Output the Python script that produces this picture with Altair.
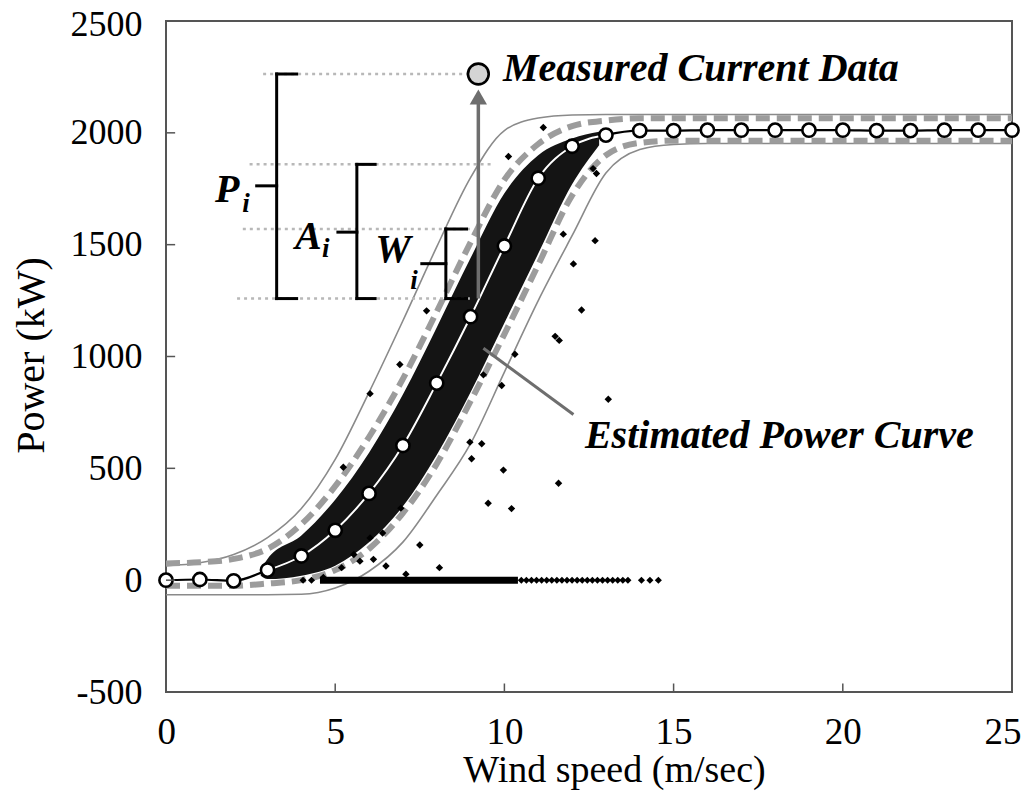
import altair as alt
import pandas as pd

# ---------------- data ----------------
wind = list(range(26))
est_power = [0, 3, -3, 45, 108, 223, 388, 602, 881, 1178, 1494, 1797, 1940, 1990,
             2010, 2010, 2012, 2012, 2012, 2012, 2012, 2010, 2010, 2012, 2012, 2012]
a_upper = [65, 78, 115, 190, 320, 540, 840, 1160, 1490, 1800, 2010, 2066, 2080, 2082,
           2082, 2082, 2082, 2082, 2082, 2082, 2082, 2082, 2082, 2082, 2082, 2082]
a_lower = [-65, -65, -65, -65, -63, -35, 40, 170, 380, 610, 930, 1250, 1540, 1820,
           1925, 1948, 1952, 1952, 1952, 1952, 1952, 1952, 1952, 1952, 1952, 1952]
w_upper = [75, 80, 95, 140, 250, 420, 640, 900, 1200, 1510, 1790, 1950, 2030, 2055,
           2065, 2065, 2065, 2065, 2065, 2065, 2065, 2065, 2065, 2065, 2065, 2065]
w_lower = [-25, -25, -25, -15, 0, 45, 140, 300, 520, 800, 1100, 1410, 1720, 1900,
           1955, 1965, 1965, 1965, 1965, 1965, 1965, 1965, 1965, 1965, 1965, 1965]

core_wind = [2.8, 3, 4, 5, 6, 7, 8, 9, 10, 11, 12, 12.8]
core_upper = [50, 95, 200, 360, 570, 830, 1130, 1440, 1730, 1900, 1975, 2005]
core_lower = [20, 5, 20, 65, 170, 330, 560, 840, 1150, 1460, 1770, 1945]

out_wind = [11.15, 10.12, 12.62, 12.72, 11.74, 12.68, 12.04, 12.28, 11.50, 11.62,
            7.70, 6.91, 6.03, 10.31, 9.38, 9.92, 13.07, 8.98, 9.33, 9.03, 5.24,
            9.97, 11.60, 9.52, 10.21, 6.94, 6.40, 6.03, 7.50, 5.55, 5.73, 5.19,
            6.13, 6.50, 8.08, 7.09, 4.65]
out_power = [2024, 1894, 1840, 1818, 1547, 1518, 1414, 1208, 1090, 1072,
             1204, 964, 834, 1010, 918, 870, 809, 617, 610, 543, 505,
             492, 433, 344, 320, 322, 211, 189, 157, 115, 85, 56,
             93, 63, 56, 27, 12]

zero_wind = [4.05, 4.3, 10.5, 10.65, 10.8, 10.95, 11.1, 11.25, 11.4, 11.55, 11.7,
             11.85, 12.0, 12.15, 12.3, 12.45, 12.6, 12.75, 12.9, 13.05, 13.2,
             13.35, 13.5, 13.65, 14.05, 14.3, 14.55]
zero_run = [4.55, 10.4]

measured_wind = [9.23]
measured_power = [2263]

guide_y = [2263, 1859, 1570, 1259]
guide_x = [2.87, 2.47, 2.27, 2.1]
guide_x2 = [8.95, 9.66, 8.98, 8.98]

brk_x = [3.27, 3.27, 3.27, 2.68, 5.64, 5.64, 5.64, 5.08, 8.27, 8.27, 8.27, 7.56]
brk_x2 = [3.27, 3.86, 3.86, 3.27, 5.64, 6.18, 6.18, 5.64, 8.27, 8.88, 8.88, 8.27]
brk_y = [1259, 2263, 1259, 1763, 1259, 1859, 1259, 1556, 1259, 1570, 1259, 1415]
brk_y2 = [2263, 2263, 1259, 1763, 1859, 1859, 1259, 1556, 1570, 1570, 1259, 1415]

sym_text = ["P", "A", "W"]
sym_x = [1.45, 3.81, 6.18]
sym_y = [1689, 1481, 1422]
sub_text = ["i", "i", "i"]
sub_x = [2.25, 4.61, 7.22]
sub_y = [1644, 1444, 1302]

call_text = ["Measured Current Data", "Estimated Power Curve"]
call_x = [9.96, 12.38]
call_y = [2231, 591]

arrow_x = [9.23]
arrow_y = [1259]
arrow_y2 = [2150]
arrowhead_y = [2160]
pointer_x = [9.38]
pointer_x2 = [12.04]
pointer_y = [1037]
pointer_y2 = [741]

xticks = [5, 10, 15, 20]
yticks = [0, 500, 1000, 1500, 2000]

# ---------------- frames ----------------
curves = pd.DataFrame({"wind": wind, "est": est_power, "aup": a_upper, "alo": a_lower,
                       "wup": w_upper, "wlo": w_lower})
core = pd.DataFrame({"wind": core_wind, "hi": core_upper, "lo": core_lower})
outl = pd.DataFrame({"wind": out_wind, "power": out_power})
zeros = pd.DataFrame({"wind": zero_wind, "power": [0] * len(zero_wind)})
zrun = pd.DataFrame({"wind": [zero_run[0]], "wind2": [zero_run[1]], "power": [0]})
meas = pd.DataFrame({"wind": measured_wind, "power": measured_power})
guides = pd.DataFrame({"wind": guide_x, "wind2": guide_x2, "power": guide_y})
brk = pd.DataFrame({"wind": brk_x, "wind2": brk_x2, "power": brk_y, "power2": brk_y2})
sym = pd.DataFrame({"wind": sym_x, "power": sym_y, "t": sym_text})
sub = pd.DataFrame({"wind": sub_x, "power": sub_y, "t": sub_text})
calls = pd.DataFrame({"wind": call_x, "power": call_y, "t": call_text})
arrow = pd.DataFrame({"wind": arrow_x, "power": arrow_y, "power2": arrow_y2})
ahead = pd.DataFrame({"wind": arrow_x, "power": arrowhead_y})
pointer = pd.DataFrame({"wind": pointer_x, "wind2": pointer_x2, "power": pointer_y, "power2": pointer_y2})
xt = pd.DataFrame({"wind": xticks, "power": [-500] * 4, "power2": [-462] * 4})
yt = pd.DataFrame({"wind": [0] * 5, "wind2": [0.27] * 5, "power": yticks})

FONT = "Liberation Serif"
PLOT_W, PLOT_H = 846, 671
xs = alt.Scale(domain=[0, 25], nice=False, zero=False)
ys = alt.Scale(domain=[-500, 2500], nice=False, zero=False)
xaxis = alt.Axis(values=[0, 5, 10, 15, 20, 25], title="Wind speed (m/sec)", domain=False,
                 ticks=False, tickSize=0, grid=False, labelFont=FONT, labelFontSize=37,
                 labelColor="black", labelPadding=22, labelFlush=True, labelFlushOffset=9,
                 labelOverlap=False, labelExpr="'' + datum.value",
                 titleFont=FONT, titleFontSize=38, titleFontWeight="normal",
                 titleColor="black", titleX=448, titleY=78, titleAlign="center",
                 titleBaseline="middle")
yaxis = alt.Axis(values=[-500, 0, 500, 1000, 1500, 2000, 2500], title="Power (kW)", domain=False,
                 ticks=False, tickSize=0, grid=False, labelFont=FONT, labelFontSize=36,
                 labelColor="black", labelPadding=24, labelFlush=False, labelOverlap=False,
                 labelExpr="'' + datum.value",
                 labelOffset={"condition": {"test": "datum.value == 2500", "value": 3}, "value": 0},
                 titleFont=FONT, titleFontSize=40, titleFontWeight="normal",
                 titleColor="black", titleX=-135, titleY=334, titleAlign="center",
                 titleBaseline="middle", titleAngle=270)


def X(f="wind"):
    return alt.X(f, type="quantitative", scale=xs, axis=xaxis)


def Y(f="power"):
    return alt.Y(f, type="quantitative", scale=ys, axis=yaxis)


base = alt.Chart(curves)

a_up_l = base.mark_line(color="#8a8a8a", strokeWidth=1.6, interpolate="monotone").encode(x=X(), y=Y("aup"))
a_lo_l = base.mark_line(color="#8a8a8a", strokeWidth=1.6, interpolate="monotone").encode(x=X(), y=Y("alo"))
w_up_l = base.mark_line(color="#9c9c9c", strokeWidth=6, strokeDash=[14, 7], interpolate="monotone").encode(x=X(), y=Y("wup"))
w_lo_l = base.mark_line(color="#9c9c9c", strokeWidth=6, strokeDash=[14, 7], interpolate="monotone").encode(x=X(), y=Y("wlo"))
core_l = alt.Chart(core).mark_area(color="#141414", interpolate="monotone").encode(
    x=X(), y=Y("hi"), y2=alt.Y2("lo"))
zrun_l = alt.Chart(zrun).mark_rule(color="black", strokeWidth=7).encode(x=X(), x2=alt.X2("wind2"), y=Y())
zero_l = alt.Chart(zeros).mark_point(shape="diamond", filled=True, color="black", size=50, opacity=1).encode(x=X(), y=Y())
out_l = alt.Chart(outl).mark_point(shape="diamond", filled=True, color="black", size=55, opacity=1).encode(x=X(), y=Y())
est_l = base.mark_line(color="black", strokeWidth=2.2, interpolate="monotone").encode(x=X(), y=Y("est"))
est_w = base.transform_filter("datum.wind >= 3 && datum.wind <= 13").mark_line(
    color="white", strokeWidth=2, interpolate="monotone").encode(x=X(), y=Y("est"))
est_c = base.mark_circle(fill="white", stroke="black", strokeWidth=2.6, size=175, opacity=1).encode(x=X(), y=Y("est"))

guide_l = alt.Chart(guides).mark_rule(color="#b8b8b8", strokeWidth=2.5, strokeDash=[3, 4]).encode(
    x=X(), x2=alt.X2("wind2"), y=Y())
brk_l = alt.Chart(brk).mark_rule(color="black", strokeWidth=3, strokeCap="square").encode(
    x=X(), x2=alt.X2("wind2"), y=Y(), y2=alt.Y2("power2"))
arrow_l = alt.Chart(arrow).mark_rule(color="#6e6e6e", strokeWidth=3.5).encode(x=X(), y=Y(), y2=alt.Y2("power2"))
ahead_l = alt.Chart(ahead).mark_point(shape="triangle-up", filled=True, color="#6e6e6e", size=300, opacity=1).encode(x=X(), y=Y())
pointer_l = alt.Chart(pointer).mark_rule(color="#6e6e6e", strokeWidth=3).encode(
    x=X(), x2=alt.X2("wind2"), y=Y(), y2=alt.Y2("power2"))
meas_l = alt.Chart(meas).mark_circle(fill="#d4d4d4", stroke="black", strokeWidth=2.6, size=430, opacity=1).encode(x=X(), y=Y())

sym_l = alt.Chart(sym).mark_text(font=FONT, fontStyle="italic", fontWeight="bold", fontSize=40,
                                 align="left", baseline="alphabetic", color="black").encode(x=X(), y=Y(), text="t:N")
sub_l = alt.Chart(sub).mark_text(font=FONT, fontStyle="italic", fontWeight="bold", fontSize=27,
                                 align="left", baseline="alphabetic", color="black").encode(x=X(), y=Y(), text="t:N")
call_l = alt.Chart(calls).mark_text(font=FONT, fontStyle="italic", fontWeight="bold", fontSize=40,
                                    align="left", baseline="alphabetic", color="black").encode(x=X(), y=Y(), text="t:N")

xt_l = alt.Chart(xt).mark_rule(color="#555555", strokeWidth=1.5).encode(x=X(), y=Y(), y2=alt.Y2("power2"))
yt_l = alt.Chart(yt).mark_rule(color="#555555", strokeWidth=1.5).encode(x=X(), x2=alt.X2("wind2"), y=Y())

chart = alt.layer(
    a_up_l, a_lo_l, w_up_l, w_lo_l, core_l, zrun_l, zero_l, out_l, est_l, est_w,
    guide_l, brk_l, arrow_l, ahead_l, pointer_l, est_c, meas_l, sym_l, sub_l, call_l,
    xt_l, yt_l
).properties(
    width=PLOT_W, height=PLOT_H,
    padding={"left": 158, "top": 13, "right": 12, "bottom": 99},
    autosize=alt.AutoSizeParams(type="none"),
    background="white",
).configure_view(stroke="#555555", strokeWidth=2)

chart.save("out.html", embed_options={"renderer": "svg", "actions": False})
